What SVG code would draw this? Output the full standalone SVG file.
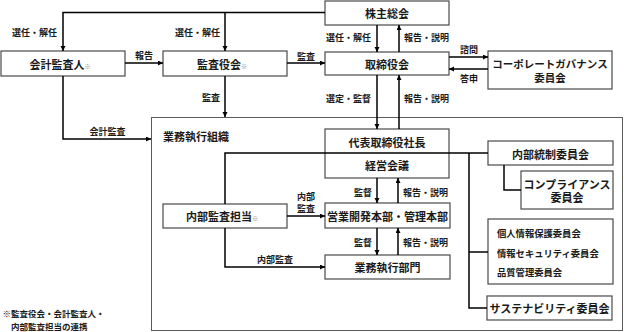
<svg xmlns="http://www.w3.org/2000/svg" width="624" height="332" viewBox="0 0 624 332">
<defs>
<marker id="ah" markerUnits="userSpaceOnUse" markerWidth="6" markerHeight="6" refX="5" refY="2.5" orient="auto">
<path d="M0,0 L5,2.5 L0,5 z" fill="#000"/>
</marker>
<style>
text{font-family:"Noto Sans CJK JP","Noto Sans",sans-serif;fill:#1a1a1a;font-weight:bold}
.b{fill:#fff;stroke:#4a4a4a;stroke-width:1.2}
.g{fill:none;stroke:#5a5a5a;stroke-width:1}
.t{font-size:11px;text-anchor:middle;dominant-baseline:central}
.l{font-size:9px;dominant-baseline:central}
.lc{font-size:9px;text-anchor:middle;dominant-baseline:central}
.s{font-size:6px;fill:#888;font-weight:normal}
.c{fill:none;stroke:#000;stroke-width:1.5}
.a{marker-end:url(#ah)}
</style>
</defs>
<rect width="624" height="332" fill="#fff"/>

<g id="org">
<rect class="g" x="151.5" y="117.5" width="471" height="213"/>
<text x="163" y="136" style="font-size:11px;dominant-baseline:central">業務執行組織</text>
</g>

<g id="kabunushi"><rect class="b" x="325" y="1" width="124" height="24"/><text class="t" x="387" y="13">株主総会</text></g>
<g id="kaikei"><rect class="b" x="1" y="51" width="124" height="25"/><text class="t" x="60" y="63.5">会計監査人<tspan class="s" dy="2">※</tspan></text></g>
<g id="kansayaku"><rect class="b" x="163" y="51" width="124" height="25"/><text class="t" x="222" y="63.5">監査役会<tspan class="s" dy="2">※</tspan></text></g>
<g id="torishimariyaku"><rect class="b" x="325" y="52" width="124" height="23"/><text class="t" x="387" y="63.5">取締役会</text></g>
<g id="cg"><rect class="b" x="488" y="51" width="124" height="38"/><text class="t" x="550" y="63.5" style="font-size:10.5px">コーポレートガバナンス<tspan x="550" dy="13">委員会</tspan></text></g>
<g id="shacho"><rect class="b" x="325" y="129" width="124" height="49"/><text class="t" x="387" y="141.5">代表取締役社長</text><text class="t" x="387" y="165">経営会議</text></g>
<g id="naibukansa"><rect class="b" x="163" y="204" width="124" height="24"/><text class="t" x="222" y="216">内部監査担当<tspan class="s" dy="2">※</tspan></text></g>
<g id="eigyo"><rect class="b" x="325" y="203" width="125" height="25"/><text class="t" x="387.5" y="215.5">営業開発本部・管理本部</text></g>
<g id="gyomu"><rect class="b" x="325" y="255" width="125" height="24"/><text class="t" x="387.5" y="267">業務執行部門</text></g>
<g id="naibutosei"><rect class="b" x="488" y="141" width="125" height="24"/><text class="t" x="550.5" y="153.5">内部統制委員会</text></g>
<g id="compliance"><rect class="b" x="521" y="171" width="92" height="38"/><text class="t" x="567" y="183.5">コンプライアンス<tspan x="567" dy="13">委員会</tspan></text></g>
<g id="iinkai3"><rect class="b" x="488" y="219" width="125" height="65"/>
<text class="l" x="497" y="233" style="font-size:9.3px">個人情報保護委員会</text>
<text class="l" x="497" y="252.5" style="font-size:9.3px">情報セキュリティ委員会</text>
<text class="l" x="497" y="272" style="font-size:9.3px">品質管理委員会</text></g>
<g id="sustain"><rect class="b" x="487" y="296" width="125" height="24"/><text class="t" x="549.5" y="308">サステナビリティ委員会</text></g>

<g id="connectors">
<path class="c a" d="M325,12.5 H63 V51"/>
<path class="c a" d="M225,12.5 V51"/>
<path class="c a" d="M125,63 H163"/>
<path class="c a" d="M287,63 H325"/>
<path class="c a" d="M225,76 V117"/>
<path class="c a" d="M63,76 V139 H151"/>
<path class="c a" d="M377,25 V52"/>
<path class="c a" d="M399,52 V25"/>
<path class="c a" d="M377,75 V129"/>
<path class="c a" d="M399,129 V75"/>
<path class="c a" d="M449,57 H488"/>
<path class="c a" d="M488,69 H449"/>
<path class="c a" d="M377,178 V203"/>
<path class="c a" d="M398,203 V178"/>
<path class="c a" d="M377,228 V255"/>
<path class="c a" d="M398,255 V228"/>
<path class="c a" d="M287,216 H325"/>
<path class="c a" d="M225,228 V267 H325"/>
<path class="c" d="M225,204 V153 H488"/>
<path class="c" d="M469,153 V308 H487"/>
<path class="c" d="M469,252 H488"/>
<path class="c" d="M504,165 V190 H521"/>
</g>

<g id="labels">
<text class="l" x="12" y="32">選任・解任</text>
<text class="l" x="175" y="32">選任・解任</text>
<text class="lc" x="144" y="55">報告</text>
<text class="lc" x="306" y="56">監査</text>
<text class="lc" x="211" y="97">監査</text>
<text class="lc" x="107.5" y="131">会計監査</text>
<text class="l" x="326" y="37">選任・解任</text>
<text class="l" x="404" y="37">報告・説明</text>
<text class="lc" x="469" y="49">諮問</text>
<text class="lc" x="469" y="78">答申</text>
<text class="l" x="326" y="98">選定・監督</text>
<text class="l" x="404" y="98">報告・説明</text>
<text class="lc" x="363" y="192">監督</text>
<text class="l" x="403" y="192">報告・説明</text>
<text class="lc" x="306" y="196">内部<tspan x="306" dy="12">監査</tspan></text>
<text class="lc" x="363" y="242">監督</text>
<text class="l" x="403" y="242">報告・説明</text>
<text class="lc" x="275" y="259">内部監査</text>
<text class="l" x="2.5" y="313" style="font-size:8.5px">※監査役会・会計監査人・<tspan x="11" dy="12.5">内部監査担当の連携</tspan></text>
</g>
</svg>
